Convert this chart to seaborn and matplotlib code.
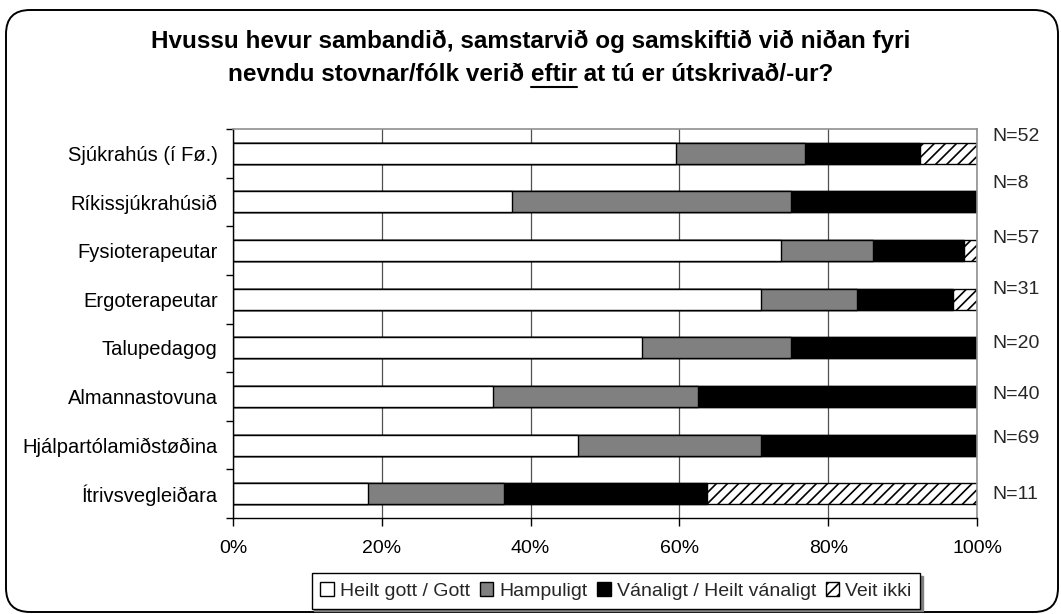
import matplotlib
matplotlib.use('Agg')
import matplotlib.pyplot as plt
import seaborn as sns
import numpy as np
import pandas as pd
from matplotlib.patches import Patch, FancyBboxPatch
from matplotlib.lines import Line2D
from matplotlib.transforms import IdentityTransform

# data (percent of respondents per place)
categories = ['Sjúkrahús (í Fø.)', 'Ríkissjúkrahúsið', 'Fysioterapeutar', 'Ergoterapeutar',
              'Talupedagog', 'Almannastovuna', 'Hjálpartólamiðstøðina', 'Ítrivsvegleiðara']
n_resp = [52, 8, 57, 31, 20, 40, 69, 11]
gott = [59.6, 37.5, 73.7, 71.0, 55.0, 35.0, 46.4, 18.2]
hampuligt = [17.3, 37.5, 12.3, 12.9, 20.0, 27.5, 24.6, 18.2]
vanaligt = [15.4, 25.0, 12.3, 12.9, 25.0, 37.5, 29.0, 27.3]
veit_ikki = [7.7, 0.0, 1.7, 3.2, 0.0, 0.0, 0.0, 36.3]
legend_labels = ['Heilt gott / Gott', 'Hampuligt', 'Vánaligt / Heilt vánaligt', 'Veit ikki']
x_ticks = [0, 20, 40, 60, 80, 100]

# small vertical nudges of the N= labels (fraction of a row)
n_label_dy = [-0.34, -0.37, -0.24, -0.19, -0.08, -0.05, -0.14, 0.02]

df = pd.DataFrame({'cat': categories, 'gott': gott, 'hamp': hampuligt,
                   'van': vanaligt, 'veit': veit_ikki})
df['c1'] = df['gott']
df['c2'] = df['c1'] + df['hamp']
df['c3'] = df['c2'] + df['van']
df['c4'] = df['c3'] + df['veit']

sns.set_theme(style='white')
plt.rcParams['font.family'] = ['Liberation Sans', 'DejaVu Sans']
plt.rcParams['hatch.linewidth'] = 1.2

W, H = 1061, 614
fig = plt.figure(figsize=(W / 100, H / 100), dpi=100, facecolor='white')
ax = fig.add_axes([233 / W, 1 - 518 / H, (977 - 233) / W, (518 - 129) / H])

# stacked bars: draw cumulative totals from the back to the front
layers = [('c4', 'white', '///'), ('c3', 'black', None),
          ('c2', '#808080', None), ('c1', 'white', None)]
for col, colour, hatch in layers:
    sns.barplot(data=df, x=col, y='cat', orient='h', color=colour, saturation=1,
                edgecolor='black', linewidth=1, hatch=hatch, width=0.43,
                errorbar=None, ax=ax)

ax.set_xlim(0, 100)
ax.set_ylim(7.5, -0.5)
ax.set_xticks(x_ticks)
ax.set_xticklabels([f'{v}%' for v in x_ticks], fontsize=14)
ax.set_yticks(range(len(categories)))
ax.set_yticklabels(categories, fontsize=14.5)
ax.set_yticks(np.arange(-0.5, len(categories), 1), minor=True)
ax.set_xlabel('')
ax.set_ylabel('')

ax.tick_params(axis='y', which='major', length=0, pad=11, colors='black')
ax.tick_params(axis='y', which='minor', length=5, width=1, direction='out', left=True, color='black')
ax.tick_params(axis='x', which='major', length=6, width=1, direction='out', bottom=True,
               pad=10, colors='black')

ax.set_axisbelow(True)
ax.xaxis.grid(True, color='#505050', linewidth=0.9)
ax.yaxis.grid(False)
for side in ['left', 'bottom']:
    ax.spines[side].set_color('black')
    ax.spines[side].set_linewidth(1)
for side in ['top', 'right']:
    ax.spines[side].set_color('#909090')
    ax.spines[side].set_linewidth(1.2)

# N= labels right of the plot
for i, n in enumerate(n_resp):
    ax.text(102.1, i + n_label_dy[i], f'N={n}', ha='left', va='center',
            fontsize=14, clip_on=False)

# title (two lines, "eftir" underlined)
title_kw = dict(fontsize=17.5, fontweight='bold', color='black')
line1 = 'Hvussu hevur sambandið, samstarvið og samskiftið við niðan fyri'
line2 = 'nevndu stovnar/fólk verið eftir at tú er útskrivað/-ur?'
fig.text(531 / W, 1 - 48 / H, line1, ha='center', va='baseline', **title_kw)
t2 = fig.text(531 / W, 1 - 81 / H, line2, ha='center', va='baseline', **title_kw)

fig.canvas.draw()
r = fig.canvas.get_renderer()


def text_width(s):
    tmp = fig.text(0, 0, s, **title_kw)
    w = tmp.get_window_extent(r).width
    tmp.remove()
    return w


bb = t2.get_window_extent(r)
x_end = bb.x0 + text_width('nevndu stovnar/fólk verið eftir')
x_start = x_end - text_width('eftir')
fig.add_artist(Line2D([x_start / W, x_end / W], [1 - 87 / H, 1 - 87 / H],
                      transform=fig.transFigure, color='black', linewidth=1.5))

# legend
handles = [Patch(facecolor='white', edgecolor='black', linewidth=1),
           Patch(facecolor='#808080', edgecolor='black', linewidth=1),
           Patch(facecolor='black', edgecolor='black', linewidth=1),
           Patch(facecolor='white', edgecolor='black', linewidth=1, hatch='///')]
leg = fig.legend(handles, legend_labels, loc='center', bbox_to_anchor=(616 / W, 1 - 591 / H),
                 ncol=4, fontsize=14, frameon=True, fancybox=False, edgecolor='black',
                 handlelength=0.7, handleheight=0.7, handletextpad=0.3, columnspacing=0.5,
                 borderpad=0.45, borderaxespad=0,
                 shadow={'color': '#808080', 'alpha': 1})
leg.get_frame().set_linewidth(1)

# rounded outer border
fig.add_artist(FancyBboxPatch((6, 2), 1052, 602, boxstyle='round,pad=0,rounding_size=24',
                              transform=IdentityTransform(), fill=False,
                              edgecolor='black', linewidth=1.4))

fig.savefig('out.png', dpi=100, facecolor='white')
